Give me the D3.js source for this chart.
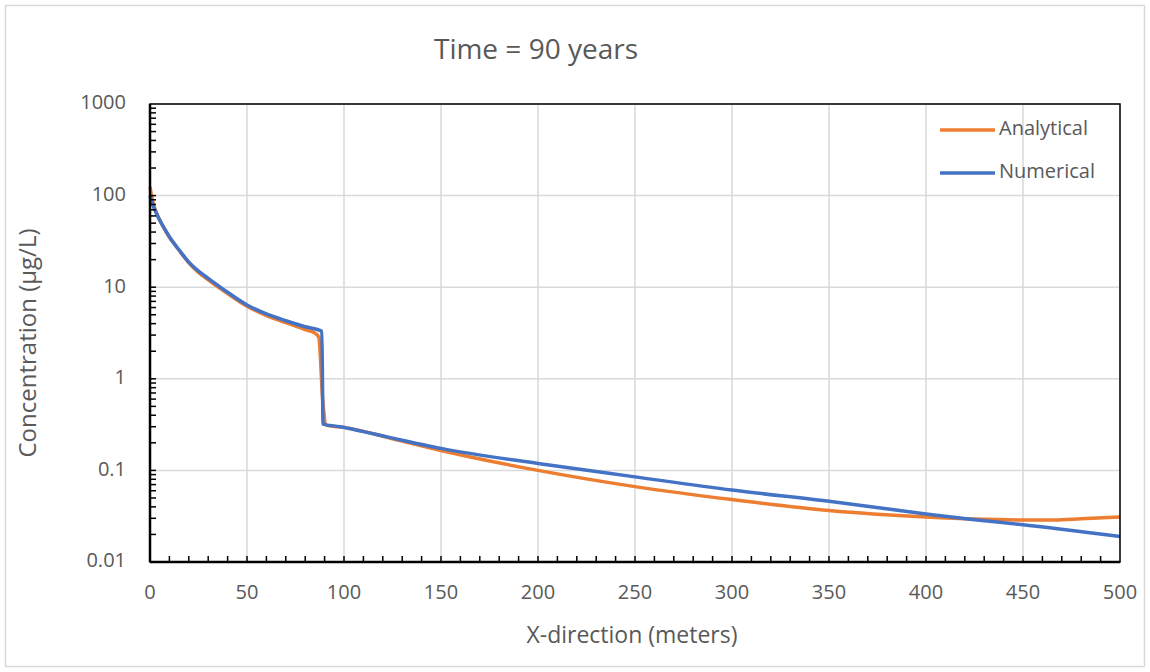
<!DOCTYPE html>
<html>
<head>
<meta charset="utf-8">
<script src="https://cdn.jsdelivr.net/npm/d3@7"></script>
<style>
  body { margin: 0; background: #fff; }
  text { font-family: "Open Sans", "Noto Sans", sans-serif; fill: #595959; }
</style>
</head>
<body>
<div id="chart"></div>
<script>
// values (distance in m, concentration in µg/L)
const analyticalX = [0, 1, 2, 3, 4, 5, 6, 7.5, 10, 12.5, 15, 20, 25, 30, 40, 50, 60, 70, 80, 85, 87, 89, 91, 100, 125, 150, 200, 250, 300, 350, 400, 425, 450, 466, 480, 500]
const analyticalY = [125, 95, 78, 68, 60, 54, 49, 43, 35, 29.8, 25.3, 18.5, 14.5, 12, 8.5, 6.2, 4.9, 4.1, 3.45, 3.15, 2.85, 0.6, 0.31, 0.295, 0.222, 0.165, 0.10, 0.0665, 0.048, 0.0365, 0.031, 0.0294, 0.0288, 0.0288, 0.0296, 0.031]

const numericalX = [0, 1, 2, 3, 4, 5, 6, 7.5, 10, 12.5, 15, 20, 25, 30, 40, 50, 60, 70, 80, 88.6, 89.2, 98, 110, 125, 150, 200, 250, 300, 350, 400, 425, 450, 500]
const numericalY = [100, 85, 74, 66, 59.5, 54, 49.5, 43.5, 35.5, 29.8, 25.5, 18.8, 15, 12.5, 8.8, 6.4, 5.1, 4.3, 3.7, 3.3, 0.32, 0.30, 0.265, 0.225, 0.174, 0.119, 0.085, 0.061, 0.046, 0.0335, 0.029, 0.0255, 0.019]

const seriesNames = ["Analytical", "Numerical"]
const seriesColors = ["#ED7D31", "#4472C4"]
const xTicks = [0, 50, 100, 150, 200, 250, 300, 350, 400, 450, 500]
const yTicks = [0.01, 0.1, 1, 10, 100, 1000]

const W = 1150, H = 672
const margin = {top: 104, right: 30, bottom: 110, left: 150}
const width = W - margin.left - margin.right
const height = H - margin.top - margin.bottom

const svg = d3.select("#chart").append("svg")
  .attr("width", W).attr("height", H)

// outer border
svg.append("rect")
  .attr("x", 5.5).attr("y", 5.5)
  .attr("width", W - 11).attr("height", H - 11)
  .attr("fill", "none").attr("stroke", "#d9d9d9").attr("stroke-width", 1.5)

const g = svg.append("g").attr("transform", `translate(${margin.left},${margin.top})`)

const x = d3.scaleLinear().domain([0, 500]).range([0, width])
const y = d3.scaleLog().domain([0.01, 1000]).range([height, 0])

// gridlines
g.append("g").selectAll("line")
  .data(xTicks.slice(1))
  .join("line")
  .attr("x1", d => x(d)).attr("x2", d => x(d))
  .attr("y1", 0).attr("y2", height)
  .attr("stroke", "#d9d9d9").attr("stroke-width", 1.5)

g.append("g").selectAll("line")
  .data(yTicks.slice(1))
  .join("line")
  .attr("x1", 0).attr("x2", width)
  .attr("y1", d => y(d)).attr("y2", d => y(d))
  .attr("stroke", "#d9d9d9").attr("stroke-width", 1.5)

// lines
const line = d3.line().x(d => x(d[0])).y(d => y(d[1])).curve(d3.curveMonotoneX)
const series = [
  d3.zip(analyticalX, analyticalY),
  d3.zip(numericalX, numericalY)
]
series.forEach((s, i) => {
  g.append("path")
    .datum(s)
    .attr("fill", "none")
    .attr("stroke", seriesColors[i])
    .attr("stroke-width", 3.5)
    .attr("stroke-linejoin", "round")
    .attr("d", line)
})

// frame (plot area border)
g.append("rect")
  .attr("width", width).attr("height", height)
  .attr("fill", "none").attr("stroke", "#000").attr("stroke-width", 1.5)

// minor ticks, pointing inside
const xMinor = d3.range(10, 500, 10)
g.append("g").selectAll("line")
  .data(xMinor)
  .join("line")
  .attr("x1", d => x(d)).attr("x2", d => x(d))
  .attr("y1", height).attr("y2", height - 6)
  .attr("stroke", "#000").attr("stroke-width", 1.5)

const yMinor = []
yTicks.slice(0, -1).forEach(t => d3.range(1, 10).forEach(k => yMinor.push(t * k)))
g.append("g").selectAll("line")
  .data(yMinor)
  .join("line")
  .attr("x1", 0).attr("x2", 6)
  .attr("y1", d => y(d)).attr("y2", d => y(d))
  .attr("stroke", "#000").attr("stroke-width", 1.5)

// axis lines thicker
g.append("line").attr("x1", 0).attr("x2", 0).attr("y1", 0).attr("y2", height)
  .attr("stroke", "#000").attr("stroke-width", 2.5)
g.append("line").attr("x1", 0).attr("x2", width).attr("y1", height).attr("y2", height)
  .attr("stroke", "#000").attr("stroke-width", 2.5)

// tick labels
g.append("g").selectAll("text")
  .data(xTicks)
  .join("text")
  .attr("x", d => x(d)).attr("y", height + 32)
  .attr("text-anchor", "middle").attr("dominant-baseline", "middle")
  .style("font-size", "20px")
  .text(d => d)

g.append("g").selectAll("text")
  .data(yTicks)
  .join("text")
  .attr("x", -24).attr("y", d => y(d))
  .attr("text-anchor", "end").attr("dominant-baseline", "middle")
  .style("font-size", "20px")
  .text(d => d)

// titles
svg.append("text")
  .attr("x", 536).attr("y", 52)
  .attr("text-anchor", "middle").attr("dominant-baseline", "middle")
  .style("font-size", "28px")
  .text("Time = 90 years")

svg.append("text")
  .attr("x", 632).attr("y", 637)
  .attr("text-anchor", "middle").attr("dominant-baseline", "middle")
  .style("font-size", "23px")
  .text("X-direction (meters)")

svg.append("text")
  .attr("transform", `translate(30,343) rotate(-90)`)
  .attr("text-anchor", "middle").attr("dominant-baseline", "middle")
  .style("font-size", "24px")
  .text("Concentration (µg/L)")

// legend
const legend = svg.append("g").attr("transform", "translate(940,130)")
seriesNames.forEach((name, i) => {
  legend.append("line")
    .attr("x1", 0).attr("x2", 55)
    .attr("y1", i * 43).attr("y2", i * 43)
    .attr("stroke", seriesColors[i]).attr("stroke-width", 3.5)
  legend.append("text")
    .attr("x", 59).attr("y", i * 43)
    .attr("dominant-baseline", "middle")
    .style("font-size", "20px")
    .text(name)
})
</script>
</body>
</html>
